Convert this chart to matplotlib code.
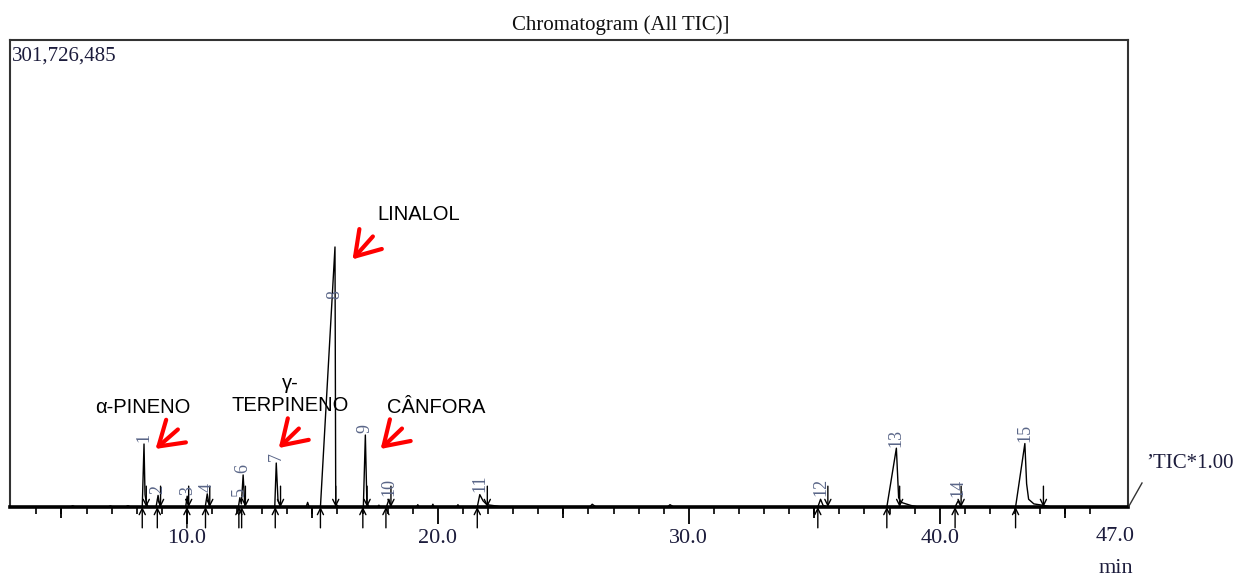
import matplotlib
matplotlib.use('Agg')
import matplotlib.pyplot as plt
import numpy as np

# TIC trace (time in min, intensity in millions of counts)
trace_t = [2.95, 5.35, 5.45, 5.55, 6.85, 6.95, 7.05, 7.55, 7.65, 7.75,
           8.22, 8.29, 8.33, 8.38, 8.45,
           8.77, 8.85, 8.93,
           9.95, 10.01, 10.07,
           10.73, 10.81, 10.9,
           12.05, 12.11, 12.17, 12.24, 12.31,
           13.5, 13.56, 13.63, 13.73,
           14.75, 14.81, 14.87,
           15.32, 15.9, 15.93, 16.05,
           17.03, 17.11, 17.17, 17.25,
           17.6, 17.65, 17.7,
           17.95, 18.05, 18.13,
           19.15, 19.2, 19.25, 19.75, 19.8, 19.85, 20.75, 20.8, 20.85,
           21.57, 21.67, 21.8, 21.95, 22.35, 22.55,
           26.05, 26.15, 26.3, 29.15, 29.25, 29.4,
           35.14, 35.25, 35.35, 35.55,
           37.89, 38.27, 38.36, 38.46, 38.85, 39.15,
           40.61, 40.73, 40.85,
           43.02, 43.39, 43.46, 43.54, 43.75, 44.15, 44.45,
           47.5]
trace_i = [0, 0, 0.8, 0, 0, 0.7, 0, 0, 0.9, 0,
           0, 40.7, 8, 3, 0,
           0, 7.5, 0,
           0, 7, 0,
           0, 8.5, 0,
           0, 6, 2, 20.7, 0,
           0, 28.4, 4, 0,
           0, 3, 0,
           0, 168, 2, 0,
           0, 46.5, 3, 0,
           0, 1.2, 0,
           0, 5, 0,
           0, 1.5, 0, 0, 1.8, 0, 0, 1.5, 0,
           0, 8, 4, 1.5, 0.6, 0,
           0, 1.8, 0, 0, 1.5, 0,
           0, 5, 1, 0,
           0, 38, 6, 3, 1, 0,
           0, 4, 0,
           0, 41, 15, 5, 2, 1, 0,
           0]

# peak table
peak_no = [str(i) for i in range(1, 16)]
peak_rt = [8.29, 8.85, 10.01, 10.81, 12.11, 12.24, 13.56, 15.9, 17.11, 18.05,
           21.67, 35.25, 38.27, 40.73, 43.39]
peak_top = [40.7, 7.5, 7, 8.5, 6, 20.7, 28.4, 168, 46.5, 6,
            9, 6, 38, 5.5, 41]
peak_start = [8.22, 8.82, 10.0, 10.74, 12.07, 12.18, 13.52, 15.32, 17.01, 17.93,
              21.57, 35.14, 37.89, 40.61, 43.02]
peak_end = [8.38, 8.95, 10.07, 10.91, 12.33, 13.73, 15.93, 17.18, 18.13,
            21.97, 35.54, 38.4, 40.85, 44.13]

y_max = 301.726485
ticks_major = [10, 20, 30, 40]
ticks_mid = [5, 15, 25, 35, 45]
ticks_minor = [t for t in range(4, 47) if t not in ticks_major]

names = ['α-PINENO', 'γ-\nTERPINENO', 'LINALOL', 'CÂNFORA']
name_xy = [(8.25, 64.6), (14.13, 72.4), (19.23, 189), (19.95, 64.6)]
arrow_tip = [(8.75, 37.5), (13.66, 38.1), (16.6, 160), (17.72, 37.5)]
arrow_tail = [(9.64, 50.1), (14.46, 50.7), (17.41, 174.8), (18.57, 50.7)]

serif = 'Liberation Serif'
sans = 'Liberation Sans'
ink = '#1c1c3c'

fig = plt.figure(figsize=(12.37, 5.8), dpi=100)
ax = fig.add_axes([10 / 1237, 73 / 580, 1118 / 1237, 467 / 580])

ax.plot(trace_t, trace_i, color='black', lw=1.0)
ax.set_xlim(2.95, 47.5)
ax.set_ylim(0, y_max)

for s in ['top', 'left', 'right']:
    ax.spines[s].set_color('#333333')
    ax.spines[s].set_linewidth(1.5)
ax.spines['bottom'].set_linewidth(2.6)
ax.spines['bottom'].set_color('black')

ax.set_yticks([])
ax.set_xticks(ticks_major)
ax.set_xticklabels(['%.1f' % t for t in ticks_major], fontfamily=serif,
                   fontsize=16, color=ink)
ax.set_xticks(ticks_minor, minor=True)
ax.tick_params(axis='x', which='major', direction='out', length=12, width=1.3,
               pad=4, color='black')
ax.tick_params(axis='x', which='minor', direction='out', length=5, width=1.2,
               color='black')
ax.vlines(ticks_mid, -0.024, 0, transform=ax.get_xaxis_transform(),
          color='black', lw=1.3, clip_on=False)
ax.text(47.0, -0.042, '47.0', transform=ax.get_xaxis_transform(), ha='center',
        va='top', fontfamily=serif, fontsize=16, color=ink)
ax.text(47.0, -0.112, 'min', transform=ax.get_xaxis_transform(), ha='center',
        va='top', fontfamily=serif, fontsize=16, color=ink)

# integration marks
for t in peak_start:
    ax.annotate('', xy=(t, 0), xytext=(0, -15), textcoords='offset points',
                arrowprops=dict(arrowstyle='->', lw=1.0, color='black',
                                shrinkA=0, shrinkB=0, mutation_scale=11),
                annotation_clip=False)
for t in peak_end:
    ax.annotate('', xy=(t, 0), xytext=(0, 15), textcoords='offset points',
                arrowprops=dict(arrowstyle='->', lw=1.0, color='black',
                                shrinkA=0, shrinkB=0, mutation_scale=11),
                annotation_clip=False)

# peak numbers
for n, t, h in zip(peak_no, peak_rt, peak_top):
    y = h * 0.8 if n == '8' else h + 1
    ax.text(t, y, n, rotation=90, ha='center', va='bottom', fontfamily=serif,
            fontsize=13, color='#5a6688')

# compound names and red arrows
for name, xy, tip, tail in zip(names, name_xy, arrow_tip, arrow_tail):
    ax.text(xy[0], xy[1], name, ha='center', va='center', fontfamily=sans,
            fontsize=14.5, color='black', multialignment='center',
            linespacing=1.2)
    ax.annotate('', xy=tip, xytext=tail,
                arrowprops=dict(arrowstyle='->, head_length=0.7, head_width=0.45',
                                color='red', lw=3, mutation_scale=24,
                                shrinkA=0, shrinkB=0))

ax.text(0.002, 0.985, '301,726,485', transform=ax.transAxes, ha='left',
        va='top', fontfamily=serif, fontsize=15, color=ink)
fig.text(621 / 1237, 1 - 25 / 580, 'Chromatogram (All TIC)]', ha='center',
         va='center', fontfamily=serif, fontsize=15, color='#111111')

# TIC*1.00 tag
fig.add_artist(plt.Line2D([1129 / 1237, 1142 / 1237],
                          [1 - 506 / 580, 1 - 483 / 580], color='#333333', lw=1))
fig.text(1146 / 1237, 1 - 463 / 580, 'ʼTIC*1.00', ha='left', va='center',
         fontfamily=serif, fontsize=15, color=ink)

fig.savefig('out.png', dpi=100)
